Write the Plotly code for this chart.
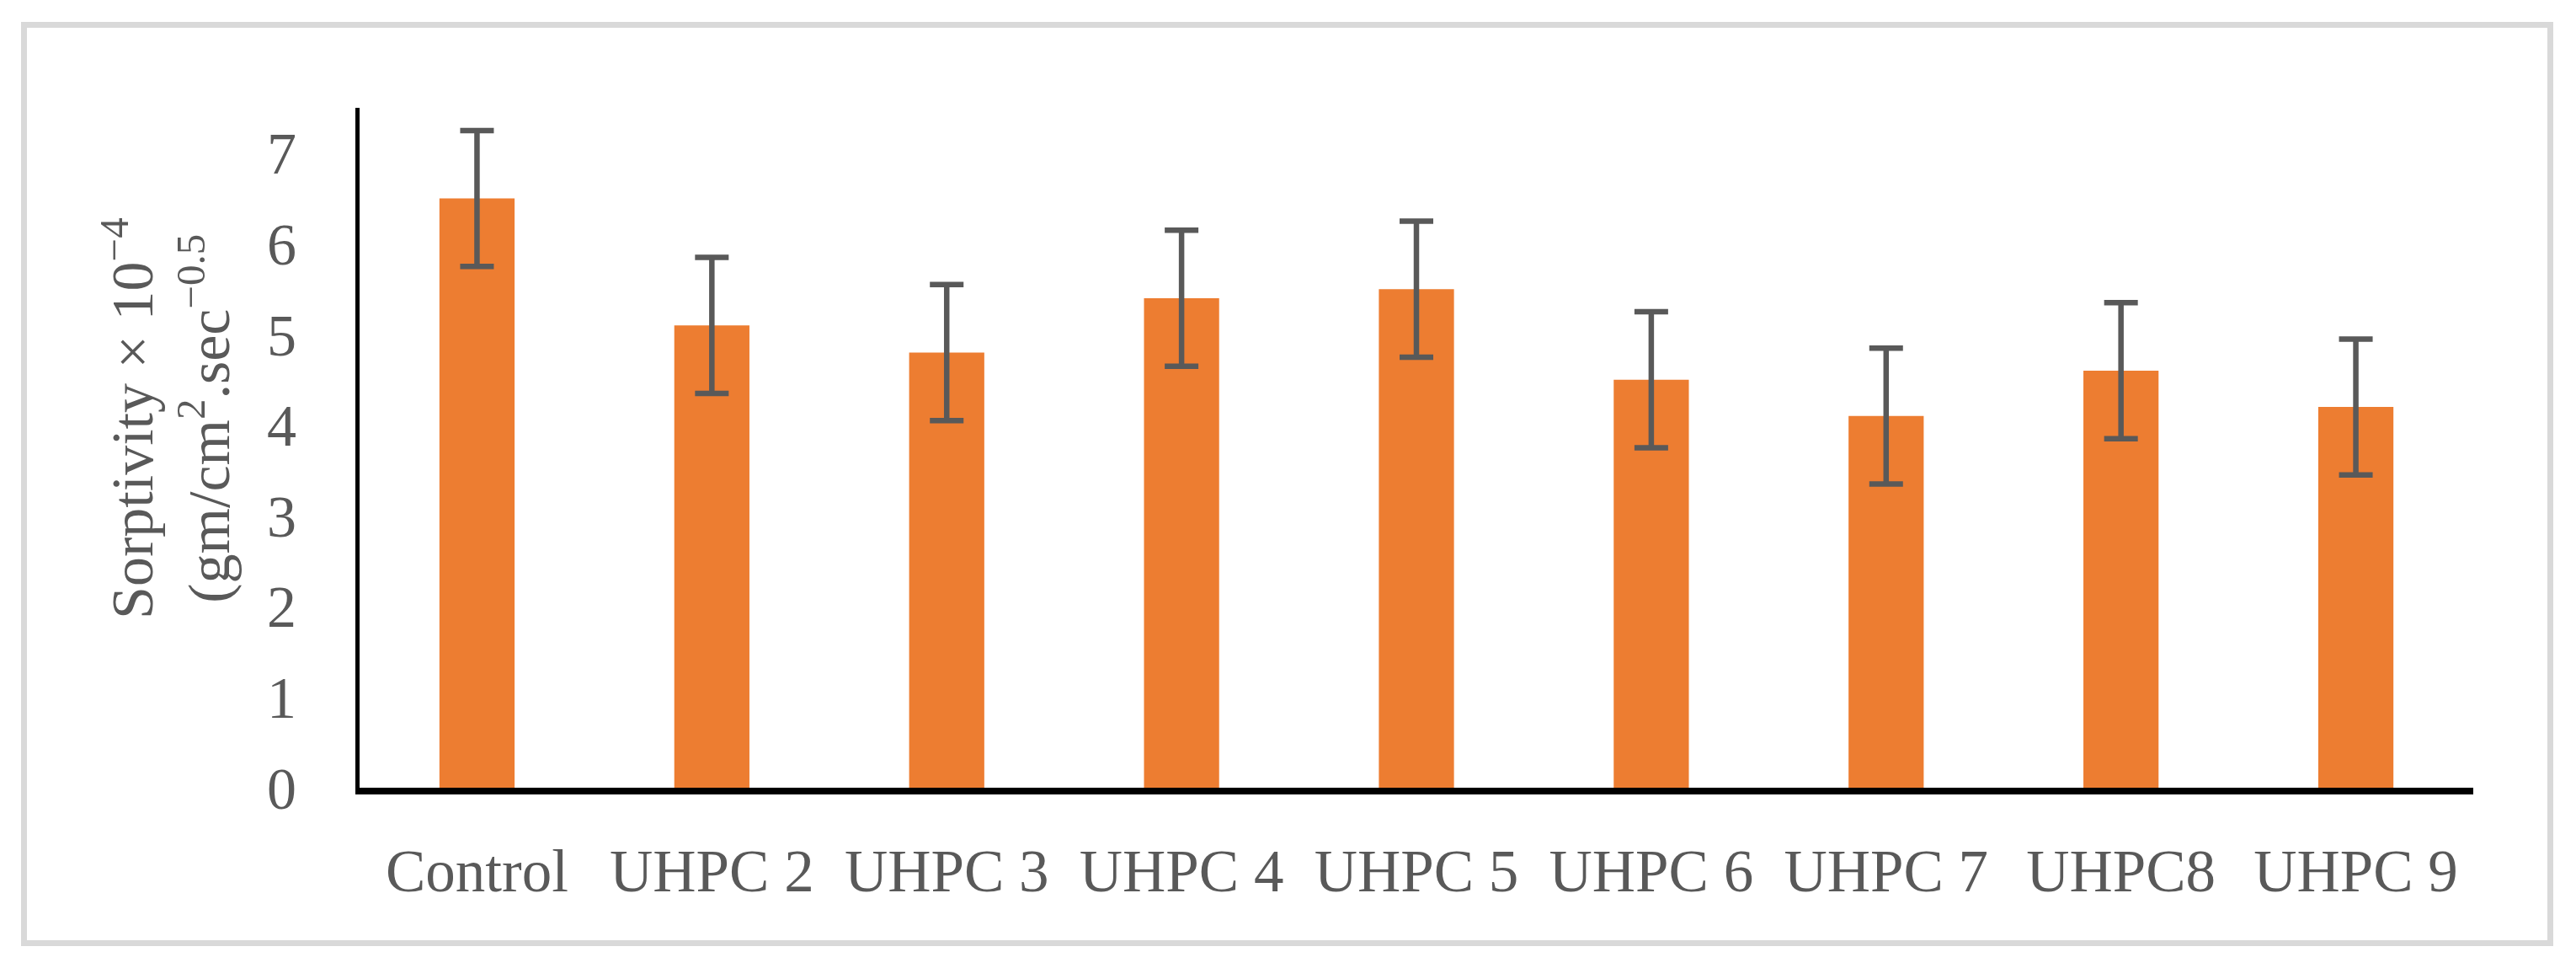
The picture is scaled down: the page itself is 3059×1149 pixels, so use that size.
import plotly.graph_objects as go

# sorptivity results
mixes = ["Control", "UHPC 2", "UHPC 3", "UHPC 4", "UHPC 5", "UHPC 6", "UHPC 7", "UHPC8", "UHPC 9"]
sorptivity = [6.5, 5.1, 4.8, 5.4, 5.5, 4.5, 4.1, 4.6, 4.2]
err = [0.75, 0.75, 0.75, 0.75, 0.75, 0.75, 0.75, 0.75, 0.75]
y_ticks = [0, 1, 2, 3, 4, 5, 6, 7]

# page has an 8px body margin, so the figure is drawn 8px in from the corner
OFF = 8
W, H = 3043, 1133
L, R, T, B = 419, 114, 120, 206
pw, ph = W - L - R, H - T - B

def px_x(v):
    return (v - OFF - L) / pw

def px_y(v):
    return (H - B - (v - OFF)) / ph

grey = "#595959"
font = dict(family="Liberation Serif, Times New Roman, serif", size=70, color=grey)

fig = go.Figure()
fig.add_trace(go.Bar(
    x=mixes,
    y=sorptivity,
    marker=dict(color="#ED7D31", line=dict(width=0)),
    error_y=dict(type="data", array=err, visible=True,
                 color=grey, thickness=6.5, width=20),
))

fig.update_layout(
    width=W, height=H,
    margin=dict(l=L, r=R, t=T, b=B),
    paper_bgcolor="white",
    plot_bgcolor="white",
    font=font,
    showlegend=False,
    bargap=0.68,
    xaxis=dict(
        showline=True, linecolor="black", linewidth=8,
        showgrid=False, ticks="", tickfont=dict(font, size=71),
        ticklabelstandoff=30,
    ),
    yaxis=dict(
        range=[0, 7.5], tickvals=y_ticks,
        showline=True, linecolor="black", linewidth=5,
        showgrid=False, zeroline=False, ticks="", tickfont=font,
        ticklabelstandoff=56,
    ),
    shapes=[dict(
        type="rect", xref="paper", yref="paper",
        x0=px_x(28.5), x1=px_x(3028.5), y0=px_y(1119.5), y1=px_y(29.5),
        line=dict(color="#d9d9d9", width=7), fillcolor="rgba(0,0,0,0)",
        layer="below",
    )],
    annotations=[dict(
        text="Sorptivity × 10<sup>−4</sup><br>(gm/cm<sup>2</sup>.sec<sup>−0.5</sup>",
        xref="paper", yref="paper",
        x=px_x(197), y=px_y(497),
        xanchor="center", yanchor="middle",
        textangle=-90, showarrow=False, font=font,
    )],
)

fig.write_html("out.html")
